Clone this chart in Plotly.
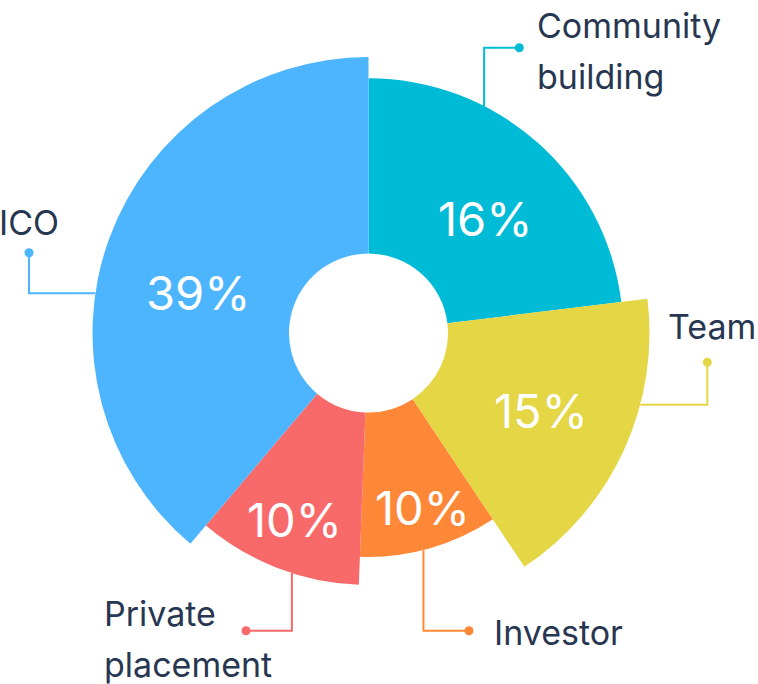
import math
import plotly.graph_objects as go

# ---------------- data ----------------
categories = ["Community building", "Team", "Investor", "Private placement", "ICO"]
pct_labels = [16, 15, 10, 10, 39]                 # printed percentages
sweep_deg = [83.0, 63.3, 35.9, 38.0, 139.8]        # angular extent of each slice
outer_radius = [254.7, 281.0, 224.0, 252.0, 276.0] # radial length of each slice
inner_radius = 79.5
label_lines = [["Community", "building"], ["Team"], ["Investor"], ["Private", "placement"], ["ICO"]]

# ---------------- style ----------------
colors = ["#00BBD6", "#E4D645", "#FE8837", "#F86A6A", "#4DB5FE"]
text_color = "#283751"
FONT = "Inter"
W, H = 758, 684
CX, CY = 368.5, 333.0      # centre of the rose in pixels (from top-left)
R_PX = 300.0               # pixel radius of the polar domain (1 unit = 1 px)

# position of percentage text inside each slice (angle deg, radius)
pct_pos = [(45.4, 163.6), (114.1, 188.9), (162.8, 182.2), (201.6, 200.3), (283.4, 175.5)]
# leader lines: anchor angle on the outer arc, first leg, second leg
leaders = [
    dict(anchor=27.0, leg1=("v", 285.3), leg2=("h", 150.8)),
    dict(anchor=104.8, leg1=("h", 338.8), leg2=("v", -29.3)),
    dict(anchor=165.8, leg1=("v", -297.7), leg2=("h", 100.5)),
    dict(anchor=197.7, leg1=("v", -297.7), leg2=("h", -122.5)),
    dict(anchor=278.3, leg1=("h", -339.5), leg2=("v", 80.3)),
]
# text placement relative to the dot: (dx, dy of first line, xanchor)
text_off = [(16, 22.7, "left"), (4.5, 35.6, "center"), (23, -2.1, "left"),
            (-144, 17.5, "left"), (-0.5, 30.7, "center")]
LINE_GAP = 51.3

fig = go.Figure()

# slices
theta_mid = []
start = 0.0
for s in sweep_deg:
    theta_mid.append(start + s / 2)
    start += s

fig.add_trace(go.Barpolar(
    r=[r - inner_radius for r in outer_radius],
    base=[inner_radius] * len(outer_radius),
    theta=theta_mid,
    width=sweep_deg,
    marker=dict(color=colors, line=dict(width=0)),
    hovertext=categories,
    hoverinfo="text",
    showlegend=False,
))

def pol2xy(ang, r):
    a = math.radians(ang)
    return r * math.sin(a), r * math.cos(a)

annotations = []
for i, cat in enumerate(categories):
    # leader line
    ld = leaders[i]
    ax, ay = pol2xy(ld["anchor"], outer_radius[i])
    pts = [(ax, ay)]
    x, y = ax, ay
    for kind, val in (ld["leg1"], ld["leg2"]):
        if kind == "v":
            y = val
        else:
            x = val
        pts.append((x, y))
    fig.add_trace(go.Scatter(
        x=[p[0] for p in pts], y=[p[1] for p in pts], mode="lines",
        line=dict(color=colors[i], width=2), hoverinfo="skip", showlegend=False,
        xaxis="x", yaxis="y"))
    fig.add_trace(go.Scatter(
        x=[x], y=[y], mode="markers", marker=dict(color=colors[i], size=9),
        hoverinfo="skip", showlegend=False, xaxis="x", yaxis="y"))
    # outer text
    dx, dy, xa = text_off[i]
    for j, line in enumerate(label_lines[i]):
        annotations.append(dict(
            x=x + dx, y=y + dy - j * LINE_GAP, xref="x", yref="y",
            text=line, showarrow=False, xanchor=xa, yanchor="middle",
            font=dict(family=FONT, size=34, color=text_color)))
    # percentage text
    px, py = pol2xy(*pct_pos[i])
    annotations.append(dict(
        x=px, y=py, xref="x", yref="y", text=f"{pct_labels[i]}%",
        showarrow=False, xanchor="center", yanchor="middle",
        font=dict(family=FONT, size=47, color="white")))

fig.update_layout(
    width=W, height=H,
    margin=dict(l=0, r=0, t=0, b=0),
    paper_bgcolor="white", plot_bgcolor="rgba(0,0,0,0)",
    polar=dict(
        domain=dict(x=[(CX - R_PX) / W, (CX + R_PX) / W],
                    y=[(H - CY - R_PX) / H, (H - CY + R_PX) / H]),
        bgcolor="rgba(0,0,0,0)",
        radialaxis=dict(range=[0, R_PX], visible=False),
        angularaxis=dict(visible=False, direction="clockwise", rotation=90),
    ),
    xaxis=dict(range=[-CX, W - CX], visible=False, fixedrange=True, domain=[0, 1]),
    yaxis=dict(range=[CY - H, CY], visible=False, fixedrange=True, domain=[0, 1]),
    annotations=annotations,
    showlegend=False,
)

fig.write_html("out.html")
